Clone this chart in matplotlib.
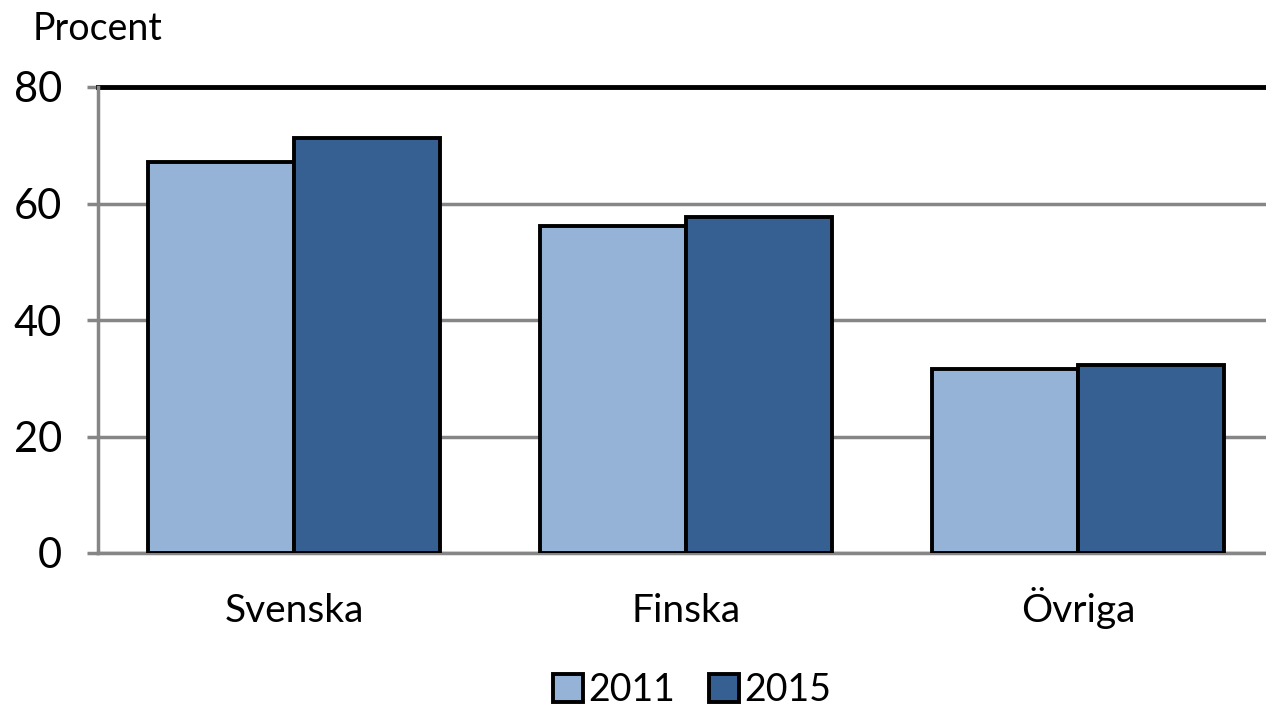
import numpy as np
import matplotlib.pyplot as plt

categories = ['Svenska', 'Finska', 'Övriga']
years = ['2011', '2015']
values_2011 = [67.1, 56.1, 31.6]
values_2015 = [71.2, 57.7, 32.3]

plt.rcParams['font.family'] = ['Lato', 'DejaVu Sans']

fig = plt.figure(figsize=(12.66, 7.11), dpi=100)
ax = fig.add_axes([98/1266, 158/711, 1176/1266, 466/711])

x = np.arange(len(categories))
w = 0.373
ax.bar(x - w/2, values_2011, w, color='#95B3D7', edgecolor='black', linewidth=2.8, label=years[0], zorder=3)
ax.bar(x + w/2, values_2015, w, color='#366092', edgecolor='black', linewidth=2.8, label=years[1], zorder=3)

ax.set_xlim(-0.5, 2.5)
ax.set_ylim(0, 80)
ax.set_yticks([0, 20, 40, 60, 80])
ax.yaxis.grid(True, color='#868686', linewidth=2.5, zorder=0)
ax.axhline(80, color='black', linewidth=3.5, zorder=2, clip_on=False)

for s in ['top', 'right']:
    ax.spines[s].set_visible(False)
for s in ['left', 'bottom']:
    ax.spines[s].set_color('#868686')
    ax.spines[s].set_linewidth(2.5)

ax.set_xticks(x)
ax.set_xticklabels(categories, fontsize=28, va='baseline')
ax.tick_params(axis='x', length=0, pad=50)
ax.tick_params(axis='y', labelsize=30, length=8, width=2.5, color='#868686', pad=18)

fig.text(33/1266, 1 - 40/711, 'Procent', fontsize=27, ha='left', va='baseline')

fig.legend(loc='center', bbox_to_anchor=(692/1266, 1 - 690/711), ncol=2, frameon=False,
           fontsize=27, handlelength=0.8, handleheight=0.8, handletextpad=0.15, columnspacing=0.9)

fig.savefig('out.png', dpi=100)
